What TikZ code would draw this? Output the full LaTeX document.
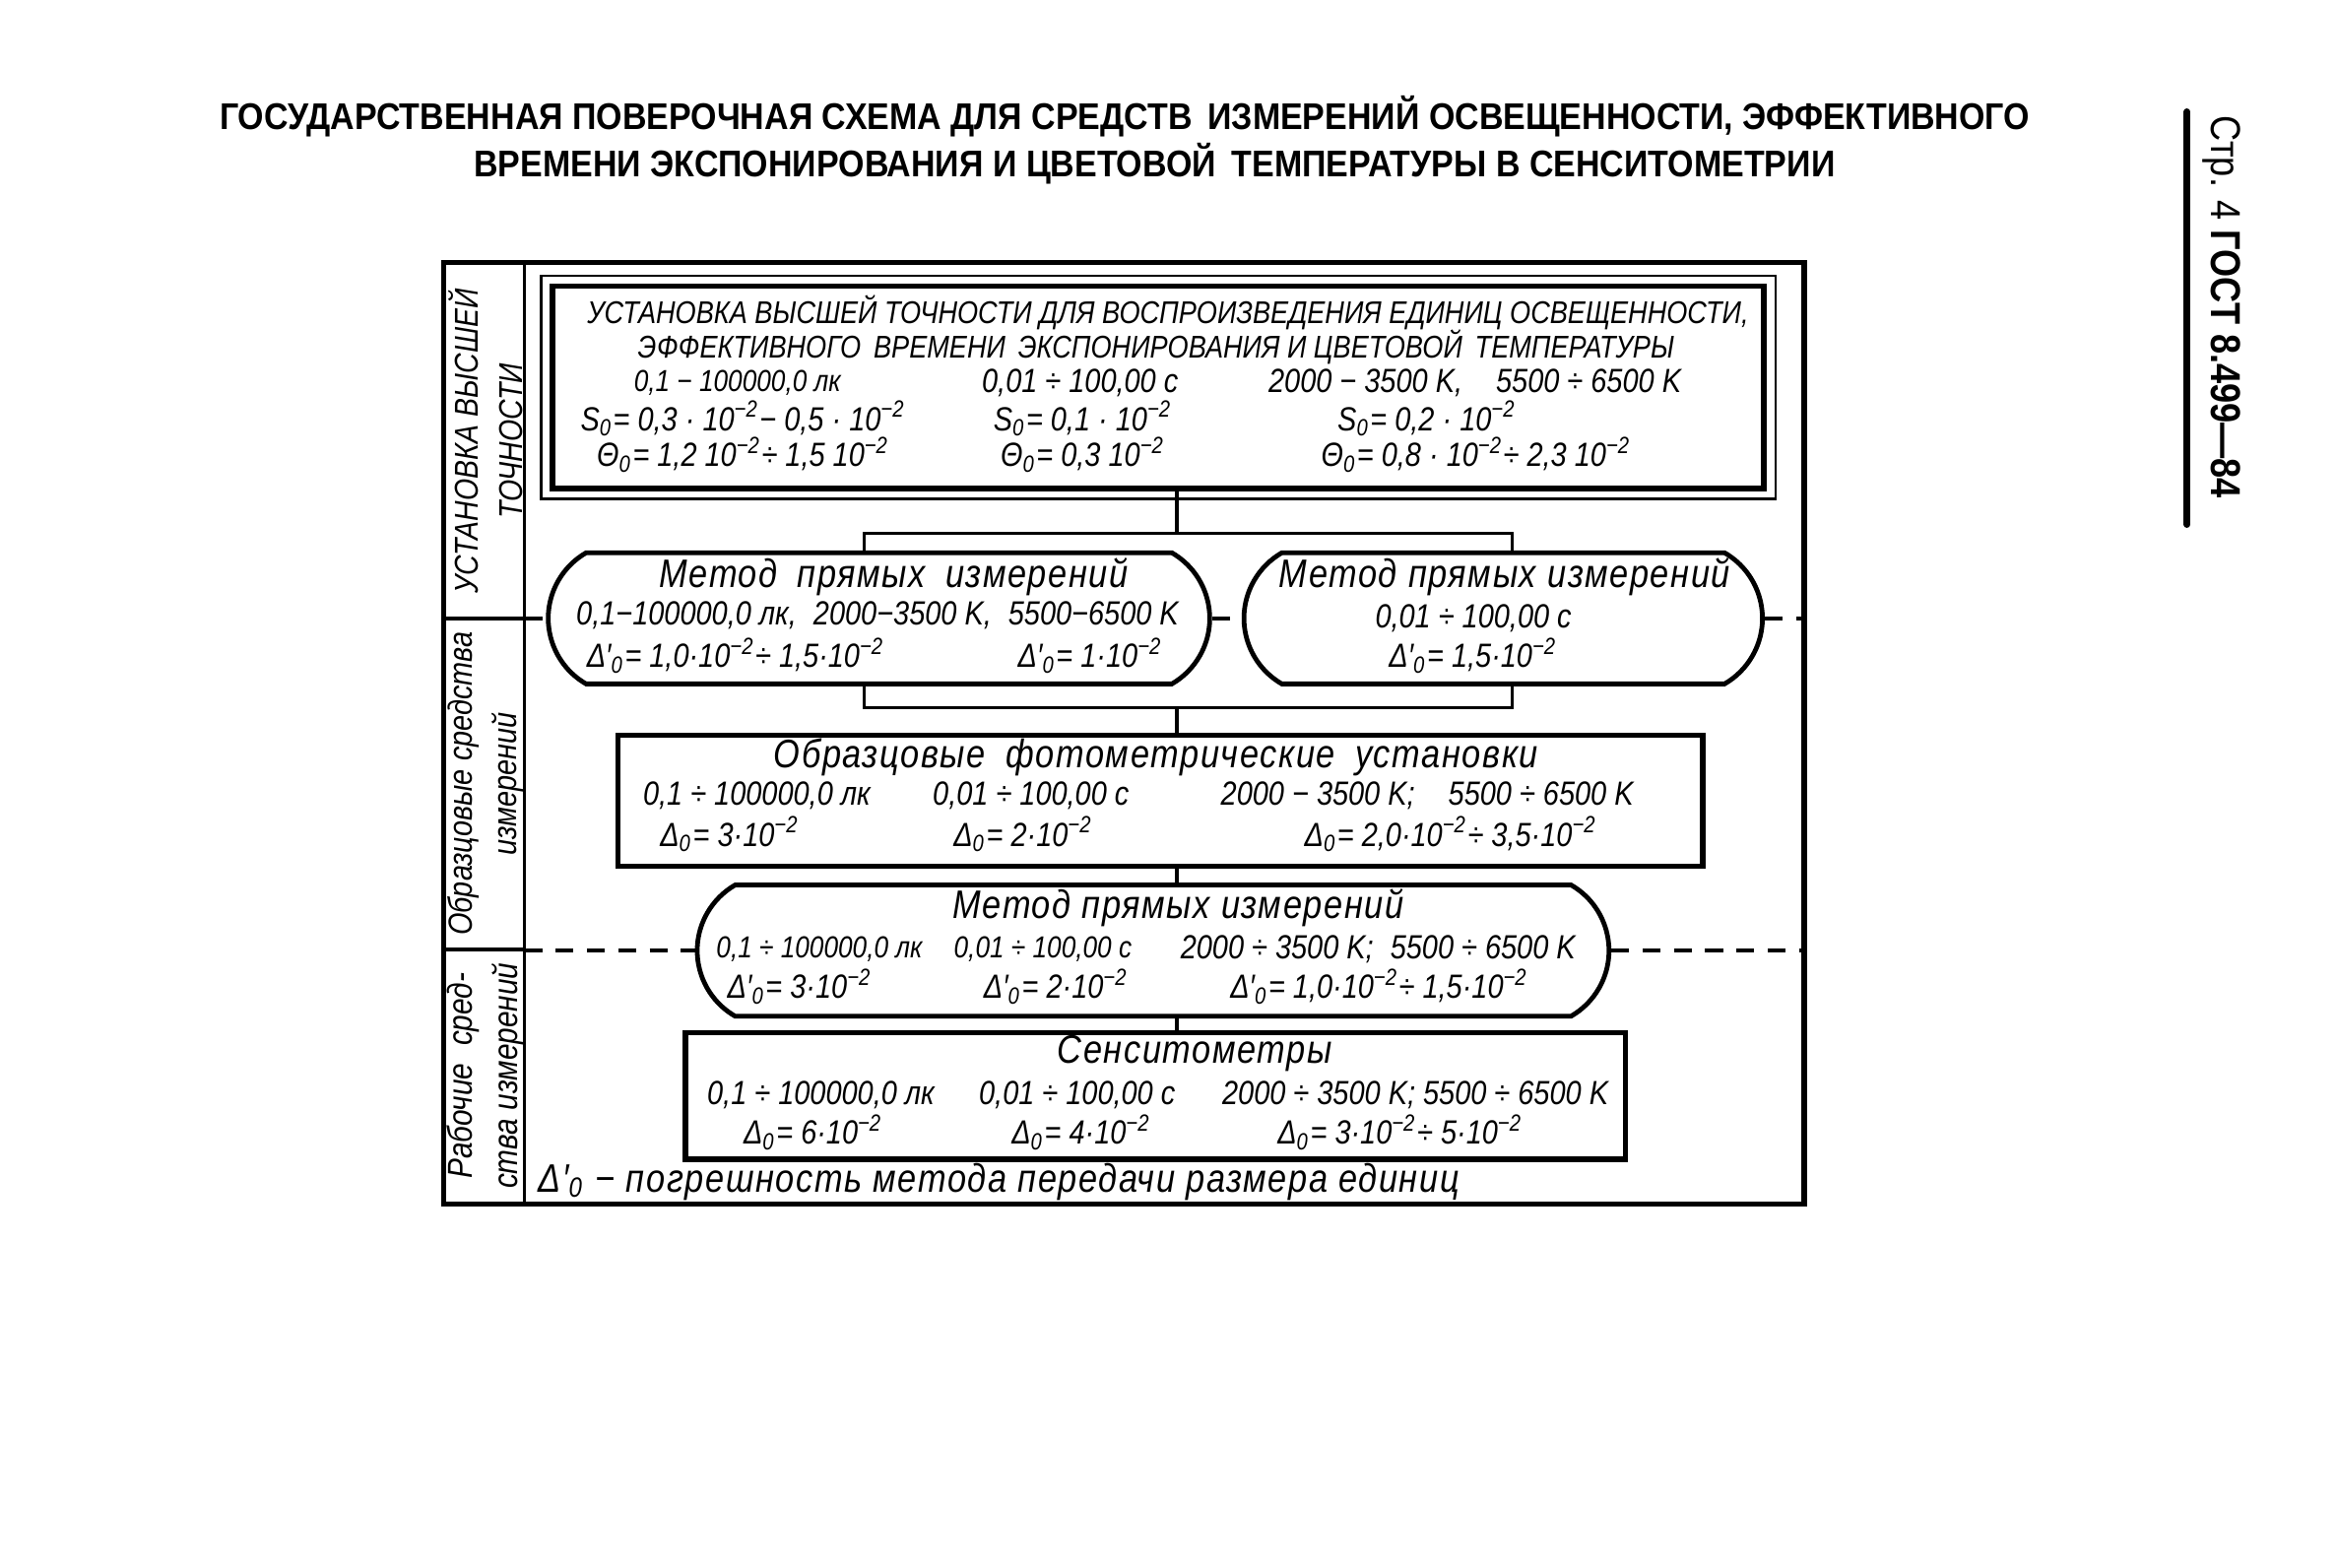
\documentclass[tikz,border=0pt]{standalone}
\usepackage{fontspec}
\setmainfont{Liberation Sans}[FakeStretch=0.85]
\newfontfamily\headfont{Liberation Sans}[FakeStretch=0.85, LetterSpace=4]
\newfontfamily\titlefont{Liberation Sans}[FakeStretch=0.9]
\usetikzlibrary{calc, shapes.misc, positioning}

\newcommand{\dz}{Δ\textsubscript{0}}
\newcommand{\dzp}{Δ′\textsubscript{0}}
\newcommand{\sz}{S\textsubscript{0}}
\newcommand{\thz}{Θ\textsubscript{0}}
\newcommand{\tmn}{10\textsuperscript{−2}}

\begin{document}
\begin{tikzpicture}[
        x = 0.1mm, y = -0.1mm,
        line width = 0.7pt,
        every node/.style = {inner sep = 0pt},
        txt/.style = {font = \itshape\fontsize{6.4}{7}\selectfont},
        small/.style = {font = \itshape\fontsize{5.8}{7}\selectfont},
        head/.style = {font = \headfont\itshape\fontsize{7.6}{9}\selectfont},
        caps/.style = {font = \itshape\fontsize{6}{7}\selectfont},
        level/.style = {rotate = 90, align = center, font = \itshape\fontsize{#1}{8.6}\selectfont},
        unitbox/.style = {draw, line width = 1pt, minimum width = #1, minimum height = 8.8mm},
        methodbox/.style = {draw, line width = 0.9pt, rounded rectangle, rounded rectangle arc length = 120,
                            minimum width = #1, minimum height = 8.8mm},
        divide/.style = {dash pattern = on 1.2mm off 0.9mm}
    ]

    \useasboundingbox (0,0) rectangle (1568,1052);

    \node[font = \titlefont\bfseries\fontsize{7.1}{8}\selectfont] (title1) at (755,78)
        {ГОСУДАРСТВЕННАЯ ПОВЕРОЧНАЯ СХЕМА ДЛЯ СРЕДСТВ\, ИЗМЕРЕНИЙ ОСВЕЩЕННОСТИ, ЭФФЕКТИВНОГО};
    \node[font = \titlefont\bfseries\fontsize{7.1}{8}\selectfont] (title2) at (775,110)
        {ВРЕМЕНИ ЭКСПОНИРОВАНИЯ И ЦВЕТОВОЙ\, ТЕМПЕРАТУРЫ В СЕНСИТОМЕТРИИ};

    \node[rotate = -90, font = \fontsize{8}{9}\selectfont] (page) at (1491,206)
        {\upshape Стр. 4 \textbf{ГОСТ 8.499—84}};
    \draw[line width = 1.3pt, line cap = round] (1468,75) -- (1468,352);

    \draw[line width = 1pt] (298,176) rectangle (1211,808);
    \draw (352,176) -- (352,808);
    \draw (298,415) -- (352,415);
    \draw (298,637) -- (352,637);

    \node[level = 6.3] (lv1) at (326,296) {УСТАНОВКА ВЫСШЕЙ\\ТОЧНОСТИ};
    \node[level = 6.4] (lv2) at (326,526) {Образцовые средства\\измерений};
    \node[level = 6.6] (lv3) at (326,722) {Рабочие\enspace сред-\\ства измерений};

    \node[draw, line width = 1.1pt, minimum width = 81.3mm, minimum height = 13.6mm] (top) at (777.5,260) {};
    \draw[line width = 0.5pt] ($(top.north west)+(-6,-5)$) rectangle ($(top.south east)+(6,5)$);
    \node[caps] (t1) at (784,210) {УСТАНОВКА ВЫСШЕЙ ТОЧНОСТИ ДЛЯ ВОСПРОИЗВЕДЕНИЯ ЕДИНИЦ ОСВЕЩЕННОСТИ,};
    \node[caps] (t2) at (776,233) {ЭФФЕКТИВНОГО\, ВРЕМЕНИ\, ЭКСПОНИРОВАНИЯ И ЦВЕТОВОЙ\, ТЕМПЕРАТУРЫ};
    \node[small] (t3a) at (495,257) {0,1 − 100000,0 лк};
    \node[txt] (t3b) at (725,257) {0,01 ÷ 100,00 с};
    \node[txt] (t3c) at (990,257) {2000 − 3500 K,\quad 5500 ÷ 6500 K};
    \node[txt] (t4a) at (499,281) {\sz = 0,3 · \tmn − 0,5 · \tmn};
    \node[txt] (t4b) at (727,281) {\sz = 0,1 · \tmn};
    \node[txt] (t4c) at (958,281) {\sz = 0,2 · \tmn};
    \node[txt] (t5a) at (499,305) {\thz = 1,2 \tmn ÷ 1,5 \tmn};
    \node[txt] (t5b) at (727,305) {\thz = 0,3 \tmn};
    \node[txt] (t5c) at (991,305) {\thz = 0,8 · \tmn ÷ 2,3 \tmn};

    \node[methodbox = 44.4mm] (b1) at (590,415) {};
    \node[methodbox = 34.8mm] (b2) at (1009,415) {};
    \node[head] (b1h) at (600,387) {Метод\enspace прямых\enspace измерений};
    \node[txt] (b1a) at (589,413) {0,1−100000,0 лк,\enspace 2000−3500 K,\enspace 5500−6500 K};
    \node[txt] (b1b) at (494,440) {\dzp = 1,0·\tmn ÷ 1,5·\tmn};
    \node[txt] (b1c) at (732,440) {\dzp = 1·\tmn};
    \node[head] (b2h) at (1010,387) {Метод прямых измерений};
    \node[txt] (b2a) at (989,415) {0,01 ÷ 100,00 с};
    \node[txt] (b2b) at (989,440) {\dzp = 1,5·\tmn};

    \node[unitbox = 72.8mm] (b3) at (779,537.5) {};
    \node[head] (b3h) at (776,508) {Образцовые\enspace фотометрические\enspace установки};
    \node[txt] (b3a) at (508,534) {0,1 ÷ 100000,0 лк};
    \node[txt] (b3b) at (692,534) {0,01 ÷ 100,00 с};
    \node[txt] (b3c) at (958,534) {2000 − 3500 K;\quad 5500 ÷ 6500 K};
    \node[txt] (b3d) at (490,560) {\dz = 3·\tmn};
    \node[txt] (b3e) at (687,560) {\dz = 2·\tmn};
    \node[txt] (b3f) at (974,560) {\dz = 2,0·\tmn ÷ 3,5·\tmn};

    \node[methodbox = 61.2mm] (b4) at (774,638) {};
    \node[head] (b4h) at (791,609) {Метод прямых измерений};
    \node[small] (b4a) at (550,637) {0,1 ÷ 100000,0 лк};
    \node[small] (b4b) at (700,637) {0,01 ÷ 100,00 с};
    \node[txt] (b4c) at (925,637) {2000 ÷ 3500 K;\enspace 5500 ÷ 6500 K};
    \node[txt] (b4d) at (537,662) {\dzp = 3·\tmn};
    \node[txt] (b4e) at (709,662) {\dzp = 2·\tmn};
    \node[txt] (b4f) at (926,662) {\dzp = 1,0·\tmn ÷ 1,5·\tmn};

    \node[unitbox = 63.1mm, minimum height = 8.5mm] (b5) at (775.5,735.5) {};
    \node[head] (b5h) at (802,707) {Сенситометры};
    \node[txt] (b5a) at (551,735) {0,1 ÷ 100000,0 лк};
    \node[txt] (b5b) at (723,735) {0,01 ÷ 100,00 с};
    \node[txt] (b5c) at (950,735) {2000 ÷ 3500 K; 5500 ÷ 6500 K};
    \node[txt] (b5d) at (546,760) {\dz = 6·\tmn};
    \node[txt] (b5e) at (726,760) {\dz = 4·\tmn};
    \node[txt] (b5f) at (940,760) {\dz = 3·\tmn ÷ 5·\tmn};

    \node[head, anchor = west] (note) at (360,793) {\dzp{} − погрешность метода передачи размера единиц};

    \coordinate (s1) at (790,358);
    \coordinate (s1l) at (580,358);
    \coordinate (s1r) at (1015,358);
    \coordinate (s2) at (790,475);
    \coordinate (s2l) at (580,475);
    \coordinate (s2r) at (1015,475);

    \draw (s1 |- top.south) -- (s1);
    \draw (s1l |- b1.north) -- (s1l) -- (s1r) -- (s1r |- b2.north);
    \draw (s2l |- b1.south) -- (s2l) -- (s2r) -- (s2r |- b2.south);
    \draw (s2) -- (s2 |- b3.north);
    \draw (s2 |- b3.south) -- (s2 |- b4.north);
    \draw (s2 |- b4.south) -- (s2 |- b5.north);

    \draw[divide] (352,415) -- (b1.west);
    \draw[divide] (b1.east) -- (b2.west);
    \draw[divide] (b2.east) -- (1211,415);
    \draw[divide] (352,638) -- (b4.west);
    \draw[divide] (b4.east) -- (1211,638);
\end{tikzpicture}
\end{document}
